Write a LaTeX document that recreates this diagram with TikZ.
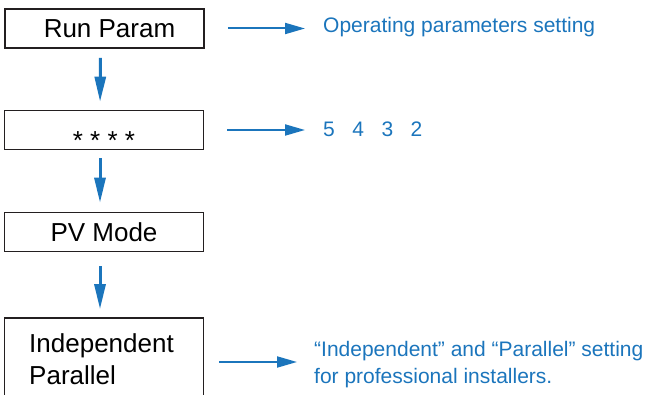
\documentclass[tikz,border=0pt]{standalone}
\usepackage{fontspec}
\setmainfont{Liberation Sans}
\usetikzlibrary{arrows.meta}
\definecolor{setblue}{RGB}{27,117,188}
\definecolor{boxline}{RGB}{35,31,32}

\begin{document}
\begin{tikzpicture}[
  x=1pt, y=1pt,
  menubox/.style={draw=boxline, line width=1.6pt, minimum width=199pt,
                  minimum height=39pt, inner sep=0pt,
                  font=\fontsize{26}{32}\selectfont,
                  text height=19pt, text depth=0pt},
  bigbox/.style={menubox, minimum height=82pt, align=left,
                 text height=, text depth=},
  note/.style={inner sep=0pt, text=setblue,
               font=\fontsize{21}{27}\selectfont},
  varr/.style={-{Triangle[length=25pt, width=11pt]}, line width=3pt, setblue},
  harr/.style={-{Triangle[length=20pt, width=11pt]}, line width=2pt, setblue},
]
  \useasboundingbox (0,0) rectangle (651,-395);

  % ── Menu boxes ───────────────────────────────────
  \node[menubox] (run)   at (104.5, -28.5) {\hspace*{10pt}Run Param};
  \node[menubox] (stars) at (104,   -130)  {\raisebox{-10pt}{* * * *}};
  \node[menubox] (pv)    at (104,   -232)  {PV Mode};
  \node[bigbox]  (indep) at (104,   -359)  {Independent\hspace*{5pt}\\Parallel};

  % ── Notes on the right ───────────────────────────
  \node[note, anchor=base west]  (opset)   at (323, -33)  {Operating parameters setting};
  \node[note, anchor=base west]  (digits)  at (323, -137) {5~~~4~~~3~~~2};
  \node[note, anchor=north west, align=left] (proinfo) at (314, -341)
        {“Independent” and “Parallel” setting\\for professional installers.};

  % ── Menu steps ───────────────────────────────────
  \draw[varr, shorten <=9pt, shorten >=8pt]
        ([xshift=-4pt]run.south) -- ([xshift=-4pt]stars.north);
  \draw[varr, shorten <=8pt, shorten >=9pt]
        ([xshift=-4pt]stars.south) -- ([xshift=-4pt]pv.north);
  \draw[varr, shorten <=14pt, shorten >=8pt]
        ([xshift=-4pt]pv.south) -- ([xshift=-4pt]indep.north);

  % ── Pointers to the notes ────────────────────────
  \draw[harr, shorten <=23pt, shorten >=18pt] (run.east) -- (run.east -| opset.west);
  \draw[harr, shorten <=23pt, shorten >=18pt] (stars.east) -- (stars.east -| digits.west);
  \draw[harr, shorten <=15pt, shorten >=17pt]
        ([yshift=-3pt]indep.east) -- ([yshift=-3pt]indep.east -| proinfo.west);

\end{tikzpicture}
\end{document}
